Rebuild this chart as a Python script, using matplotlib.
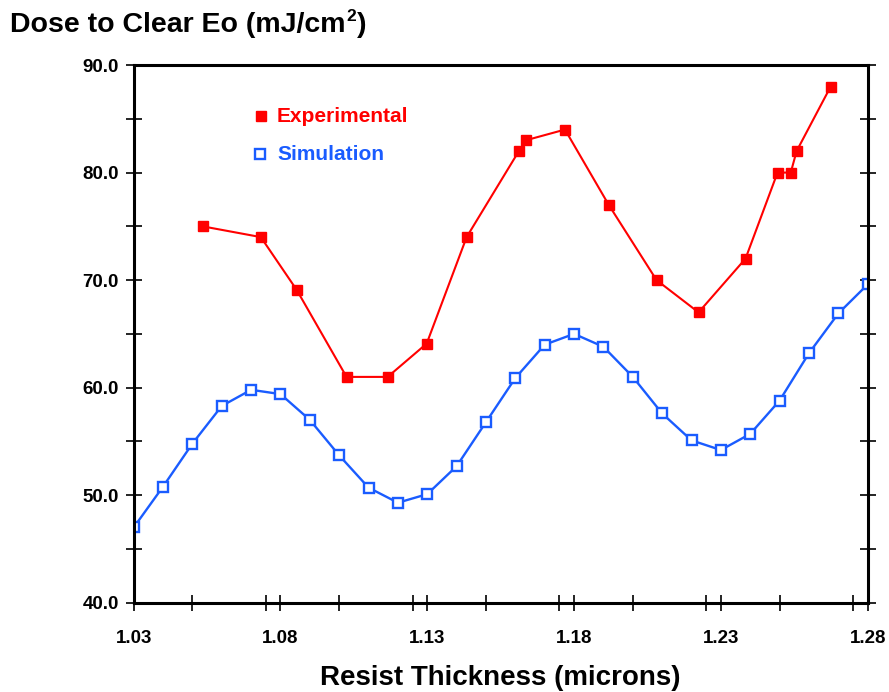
import matplotlib
matplotlib.use("Agg")
import matplotlib.pyplot as plt
from matplotlib.ticker import MultipleLocator, FixedLocator
from matplotlib.transforms import IdentityTransform

plt.rcParams['font.family'] = ['Liberation Sans', 'DejaVu Sans']
plt.rcParams['font.weight'] = 'bold'

# Simulation data
sim_x = [1.03, 1.04, 1.05, 1.06, 1.07, 1.08, 1.09, 1.10, 1.11, 1.12, 1.13, 1.14, 1.15,
         1.16, 1.17, 1.18, 1.19, 1.20, 1.21, 1.22, 1.23, 1.24, 1.25, 1.26, 1.27, 1.28]
sim_y = [47.0, 50.8, 54.8, 58.3, 59.8, 59.4, 57.0, 53.7, 50.7, 49.3, 50.1, 52.7, 56.8,
         60.9, 64.0, 65.0, 63.8, 61.0, 57.6, 55.1, 54.2, 55.7, 58.8, 63.2, 66.9, 69.6]

# Experimental data
exp_x = [1.0535, 1.0733, 1.0855, 1.1025, 1.1165, 1.1298, 1.1434, 1.1612, 1.1635, 1.1769,
         1.1918, 1.2081, 1.2224, 1.2384, 1.2493, 1.2538, 1.2558, 1.2674]
exp_y = [75.0, 74.0, 69.1, 61.0, 61.0, 64.1, 74.0, 82.0, 83.0, 84.0,
         77.0, 70.0, 67.0, 72.0, 80.0, 80.0, 82.0, 88.0]

x_tick_labels = ['1.03', '1.08', '1.13', '1.18', '1.23', '1.28']
y_tick_labels = ['40.0', '50.0', '60.0', '70.0', '80.0', '90.0']

red = '#ff0000'
blue = '#1a5cff'

fig = plt.figure(figsize=(8.89, 6.92), dpi=100)
ax = fig.add_axes([0.1504, 0.129, 0.8256, 0.777])

ax.plot(exp_x, exp_y, color=red, lw=1.5, marker='s', ms=7, mfc=red, mec=red, zorder=3)
ax.plot(sim_x, sim_y, color=blue, lw=1.7, marker='s', ms=7.2, mfc='white', mec=blue, mew=1.7, zorder=2)

ax.set_xlim(1.03, 1.28)
ax.set_ylim(40, 90)

xt = [float(s) for s in x_tick_labels]
yt = [float(s) for s in y_tick_labels]
ax.xaxis.set_major_locator(FixedLocator(xt))
ax.set_xticklabels(x_tick_labels)
ax.xaxis.set_minor_locator(MultipleLocator(0.025))
ax.yaxis.set_major_locator(FixedLocator(yt))
ax.set_yticklabels(y_tick_labels)
ax.yaxis.set_minor_locator(MultipleLocator(5))

ax.tick_params(which='both', direction='inout', length=11.5, width=1.2,
               left=True, right=True, bottom=True, top=False, labelsize=13.5)
ax.tick_params(axis='x', which='both', pad=14)
ax.tick_params(axis='y', which='both', pad=5)
for lab in ax.get_xticklabels() + ax.get_yticklabels():
    lab.set_fontweight('bold')

for s in ax.spines.values():
    s.set_linewidth(2.2)

ax.set_xlabel('Resist Thickness (microns)', fontsize=20, fontweight='bold', labelpad=12.5)

# Title with small superscript
y_base_px = (1 - 32 / 692) * fig.bbox.height
t1 = fig.text(10, y_base_px, 'Dose to Clear Eo (mJ/cm', fontsize=20.5,
              fontweight='bold', ha='left', va='baseline', transform=IdentityTransform())
fig.canvas.draw()
r = fig.canvas.get_renderer()
bb1 = t1.get_window_extent(r)
t2 = fig.text(bb1.x1 + 1, y_base_px + 11, '2', fontsize=12.5, fontweight='bold',
              ha='left', va='baseline', transform=IdentityTransform())
fig.canvas.draw()
bb2 = t2.get_window_extent(r)
fig.text(bb2.x1 + 1, y_base_px, ')', fontsize=20.5, fontweight='bold', ha='left',
         va='baseline', transform=IdentityTransform())

# Legend (manual)
ax.plot([0.1734], [0.905], ls='none', marker='s', ms=7, mfc=red, mec=red,
        transform=ax.transAxes, clip_on=False)
ax.plot([0.1721], [0.834], ls='none', marker='s', ms=7.2, mfc='white', mec=blue, mew=1.7,
        transform=ax.transAxes, clip_on=False)
ax.text(0.1952, 0.8934, 'Experimental', color=red, fontsize=15, fontweight='bold',
        transform=ax.transAxes, ha='left', va='baseline')
ax.text(0.1952, 0.8233, 'Simulation', color=blue, fontsize=15, fontweight='bold',
        transform=ax.transAxes, ha='left', va='baseline')

fig.savefig('out.png', dpi=100)
